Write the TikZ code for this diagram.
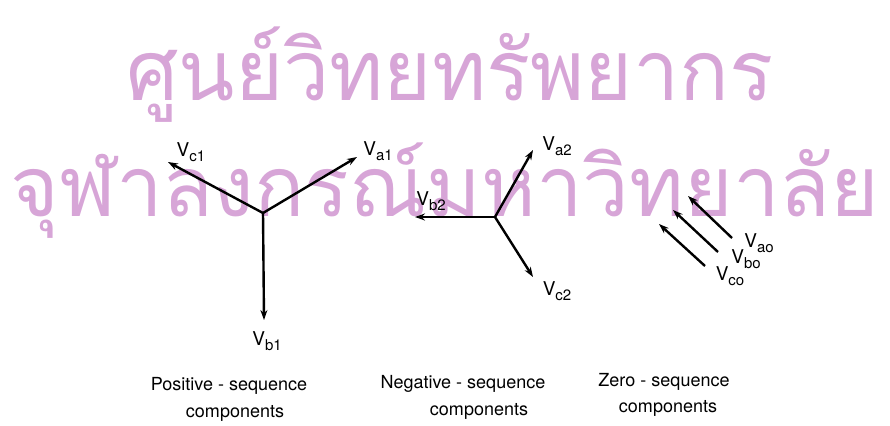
\documentclass[tikz,border=0pt]{standalone}
\usepackage{fontspec}
\setsansfont{TeX Gyre Heros}
\newfontfamily\thaifont[Script=Thai]{Loma}
\usetikzlibrary{arrows.meta}
\definecolor{stamp}{RGB}{215,165,215}
\newcommand{\vsub}[1]{V\raisebox{-0.45ex}{\fontsize{15}{15}\selectfont #1}}

\begin{document}
\begin{tikzpicture}[x=1pt, y=-1pt, >={Stealth[length=10pt,width=7pt]},
    phasor/.style={->, line width=2.4pt},
    lbl/.style={font=\sffamily\fontsize{19}{19}\selectfont, inner sep=0pt},
    capt/.style={font=\sffamily\fontsize{18}{18}\selectfont, anchor=base},
    stamptext/.style={text=stamp, font=\thaifont\fontsize{84}{84}\selectfont, anchor=base}]
    \useasboundingbox (0,0) rectangle (890,425);

    % watermark
    \node[stamptext, xscale=0.98] (wm1) at (450,101) {ศูนย์วิทยทรัพยากร};
    \node[stamptext, xscale=0.99] (wm2) at (445,216) {จุฬาลงกรณ์มหาวิทยาลัย};

    % positive sequence
    \coordinate (o1) at (263,213);
    \coordinate (va1) at (357,157);
    \coordinate (vb1) at (264,320);
    \coordinate (vc1) at (168,162);
    \draw[phasor] (o1) -- (va1);
    \draw[phasor] (o1) -- (vb1);
    \draw[phasor] (o1) -- (vc1);
    \node[lbl] (la1) at (378,151) {\vsub{a1}};
    \node[lbl] (lb1) at (267,341) {\vsub{b1}};
    \node[lbl] (lc1) at (191,152) {\vsub{c1}};

    % negative sequence
    \coordinate (o2) at (495,217);
    \coordinate (va2) at (533,150);
    \coordinate (vb2) at (415,217);
    \coordinate (vc2) at (533,277);
    \draw[phasor] (o2) -- (va2);
    \draw[phasor] (o2) -- (vb2);
    \draw[phasor] (o2) -- (vc2);
    \node[lbl] (la2) at (557,146) {\vsub{a2}};
    \node[lbl] (lb2) at (431,201) {\vsub{b2}};
    \node[lbl] (lc2) at (557,291) {\vsub{c2}};

    % zero sequence
    \coordinate (ta0) at (732,238); \coordinate (va0) at (688,196);
    \coordinate (tb0) at (718,252); \coordinate (vb0) at (673,210);
    \coordinate (tc0) at (705,266); \coordinate (vc0) at (659,224);
    \draw[phasor] (ta0) -- (va0);
    \draw[phasor] (tb0) -- (vb0);
    \draw[phasor] (tc0) -- (vc0);
    \node[lbl] (la0) at (759,243) {\vsub{ao}};
    \node[lbl] (lb0) at (746,259) {\vsub{bo}};
    \node[lbl] (lc0) at (730,276) {\vsub{co}};

    % captions
    \node[capt] (cp1) at (229,390) {Positive - sequence};
    \node[capt] (cp2) at (235,417) {components};
    \node[capt] (cn1) at (463,388) {Negative - sequence};
    \node[capt] (cn2) at (479,415) {components};
    \node[capt] (cz1) at (664,386) {Zero - sequence};
    \node[capt] (cz2) at (668,412) {components};
\end{tikzpicture}
\end{document}
